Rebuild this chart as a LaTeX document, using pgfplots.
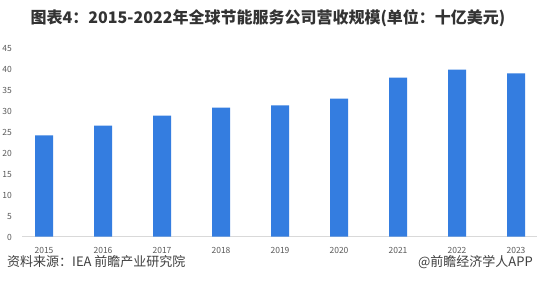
\documentclass[border=0pt]{standalone}
\usepackage{pgfplots}
\pgfplotsset{compat=1.18}
\usepackage{fontspec}
\setmainfont{Noto Sans CJK SC}
\definecolor{barblue}{RGB}{52,125,224}
\definecolor{ticktxt}{RGB}{89,89,89}
\definecolor{axline}{RGB}{217,217,217}
\begin{document}
\begin{tikzpicture}[x=1bp,y=1bp]
\useasboundingbox (0,0) rectangle (537,299);
\fill[white] (0,0) rectangle (537,299);
\begin{axis}[
  at={(22bp,62.3bp)}, anchor=south west,
  scale only axis, width=515bp, height=190bp,
  xmin=-0.373, xmax=8.356, ymin=0, ymax=45,
  ytick={0,5,...,45},
  xtick=data,
  xticklabels={2015,2016,2017,2018,2019,2020,2021,2022,2023},
  axis y line=none,
  axis x line*=bottom,
  x axis line style={draw=axline, line width=0.8bp, -},
  tick style={draw=none},
  ticklabel style={font=\fontsize{8.5bp}{10bp}\selectfont, text=ticktxt},
  xticklabel style={yshift=-7bp},
  /pgf/number format/assume math mode=true,
  clip=false,
]
\addplot[ybar, bar width=18bp, fill=barblue, draw=none] coordinates {
(0,24.0) (1,26.3) (2,28.7) (3,30.6) (4,31.1) (5,32.7) (6,37.7) (7,39.6) (8,38.7)};
\end{axis}
% y tick labels
\foreach \v in {0,5,...,45} {
  \node[anchor=east, inner sep=0, text=ticktxt, font=\fontsize{8.5bp}{10bp}\selectfont] at (12, 61.8+\v*188.5/45) {\v};
}
\node[font=\fontsize{16bp}{18bp}\selectfont\bfseries, text={rgb,255:red,51;green,51;blue,51}] at (268,281) {图表4：2015-2022年全球节能服务公司营收规模(单位：十亿美元)};
\node[anchor=west, inner sep=0, font=\fontsize{13bp}{15bp}\selectfont, text={rgb,255:red,64;green,64;blue,64}] at (7,37) {资料来源：IEA 前瞻产业研究院};
\node[anchor=east, inner sep=0, font=\fontsize{13bp}{15bp}\selectfont, text={rgb,255:red,64;green,64;blue,64}] at (533,37) {@前瞻经济学人APP};
\end{tikzpicture}
\end{document}
